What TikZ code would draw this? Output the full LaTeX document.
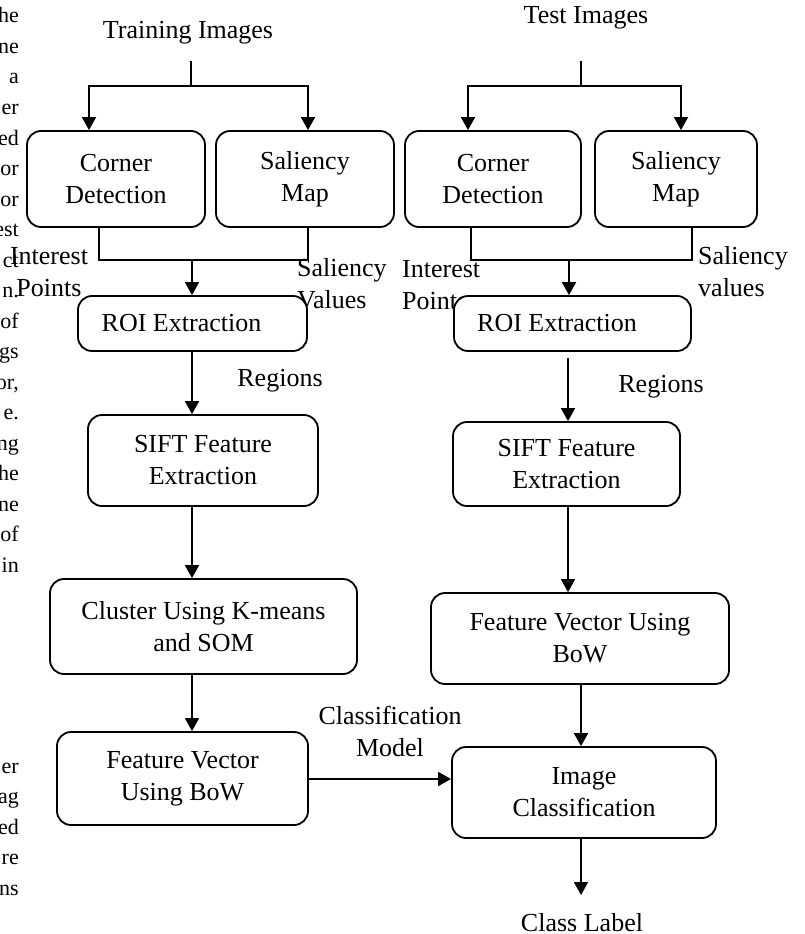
\documentclass[tikz,border=0pt]{standalone}
\usepackage{fontspec}
\setmainfont{Liberation Serif}
\usetikzlibrary{arrows.meta}
\begin{document}
\begin{tikzpicture}[x=1pt,y=-1pt,
  box/.style={draw, line width=1.8pt, rounded corners=14pt, fill=white, align=center, inner sep=0pt, font=\fontsize{26}{32}\selectfont},
  lbl/.style={align=center, inner sep=0pt, font=\fontsize{26}{32}\selectfont},
  frag/.style={anchor=base east, inner sep=0pt, font=\fontsize{22}{26}\selectfont},
  conn/.style={line width=1.8pt},
  arr/.style={line width=1.8pt, -{Triangle[length=13pt,width=14pt]}}
]
\useasboundingbox (0,0) rectangle (804,934);

% fragments of the neighbouring text column
\foreach \t [count=\i from 0] in {he,ne,a,er,ed,or,or,est,ct,n.,of,gs,{or,},e.,ng,he,ne,of,in}
  \node[frag] (fa\i) at (19,{23+\i*30.5}) {\t};
\foreach \t [count=\i from 0] in {er,ag,ed,re,ns}
  \node[frag] (fb\i) at (19,{773+\i*30.5}) {\t};

% titles and labels
\node[lbl] (ti) at (188,33) {Training Images};
\node[lbl] (tsi) at (586,18) {Test Images};
\node[lbl] (ip1) at (49,272) {Interest\\Points};
\node[lbl, anchor=west, align=left] (sv1) at (297,284) {Saliency\\Values};
\node[lbl, anchor=west, align=left] (ip2) at (402,285) {Interest\\Points};
\node[lbl, anchor=west, align=left] (sv2) at (698,271.5) {Saliency\\values};
\node[lbl] (rg1) at (280,381) {Regions};
\node[lbl] (rg2) at (661,387) {Regions};
\node[lbl] (cm) at (390,731) {Classification\\Model};
\node[lbl] (cl) at (582,923) {Class Label};

% boxes
\node[box, minimum width=178pt, minimum height=96pt] (cd1) at (116,179) {Corner\\Detection};
\node[box, minimum width=178pt, minimum height=96pt] (sm1) at (305,179) {Saliency\\Map};
\node[box, minimum width=176pt, minimum height=96pt] (cd2) at (493,179) {Corner\\Detection};
\node[box, minimum width=162pt, minimum height=96pt] (sm2) at (676,179) {Saliency\\Map};
\node[box, minimum width=229pt, minimum height=55pt] (roi1) at (192.5,323.5) {ROI Extraction\hspace*{22pt}};
\node[box, minimum width=237pt, minimum height=55pt] (roi2) at (572.5,323.5) {ROI Extraction\hspace*{31pt}};
\node[box, minimum width=230pt, minimum height=91pt] (sift1) at (203,460.5) {SIFT Feature\\Extraction};
\node[box, minimum width=227pt, minimum height=84pt] (sift2) at (566.5,464) {SIFT Feature\\Extraction};
\node[box, minimum width=307pt, minimum height=95pt] (clus) at (203.5,626.5) {Cluster Using K-means\\and SOM};
\node[box, minimum width=298pt, minimum height=91pt] (fv2) at (580,638.5) {Feature Vector Using\\BoW};
\node[box, minimum width=251pt, minimum height=93pt] (fv1) at (182.5,778.5) {Feature Vector\\Using BoW};
\node[box, minimum width=264pt, minimum height=91pt] (ic) at (584,792.5) {Image\\Classification};

% training split
\coordinate (ts) at (191,61);
\coordinate (tj) at (191,86);
\coordinate (tjl) at (89,86);
\coordinate (tjr) at (308,86);
\draw[conn] (ts) -- (tj);
\draw[arr] (tj) -- (tjl) -- (tjl |- cd1.north);
\draw[arr] (tj) -- (tjr) -- (tjr |- sm1.north);

% test split
\coordinate (es) at (581,61);
\coordinate (ej) at (581,86);
\coordinate (ejl) at (468,86);
\coordinate (ejr) at (681,86);
\draw[conn] (es) -- (ej);
\draw[arr] (ej) -- (ejl) -- (ejl |- cd2.north);
\draw[arr] (ej) -- (ejr) -- (ejr |- sm2.north);

% merge to ROI (training)
\coordinate (bl) at (99,260);
\coordinate (br) at (308,260);
\coordinate (bm) at (192,260);
\draw[conn] (bl |- cd1.south) -- (bl) -- (br) -- (br |- sm1.south);
\draw[arr] (bm) -- (bm |- roi1.north);

% merge to ROI (test)
\coordinate (bl2) at (471,260);
\coordinate (br2) at (692,260);
\coordinate (bm2) at (569,260);
\draw[conn] (bl2 |- cd2.south) -- (bl2) -- (br2) -- (br2 |- sm2.south);
\draw[arr] (bm2) -- (bm2 |- roi2.north);

% training chain
\draw[arr] (bm |- roi1.south) -- (bm |- sift1.north);
\draw[arr] (bm |- sift1.south) -- (bm |- clus.north);
\draw[arr] (bm |- clus.south) -- (bm |- fv1.north);

% test chain
\coordinate (rx) at (568,0);
\draw[arr, shorten <=6pt] (rx |- roi2.south) -- (rx |- sift2.north);
\draw[arr] (rx |- sift2.south) -- (rx |- fv2.north);
\coordinate (clt) at (581,895);
\draw[arr] (clt |- fv2.south) -- (clt |- ic.north);
\draw[arr] (clt |- ic.south) -- (clt);

% classification model
\coordinate (hy) at (0,779);
\draw[arr] (fv1.east |- hy) -- (ic.west |- hy);
\end{tikzpicture}
\end{document}
